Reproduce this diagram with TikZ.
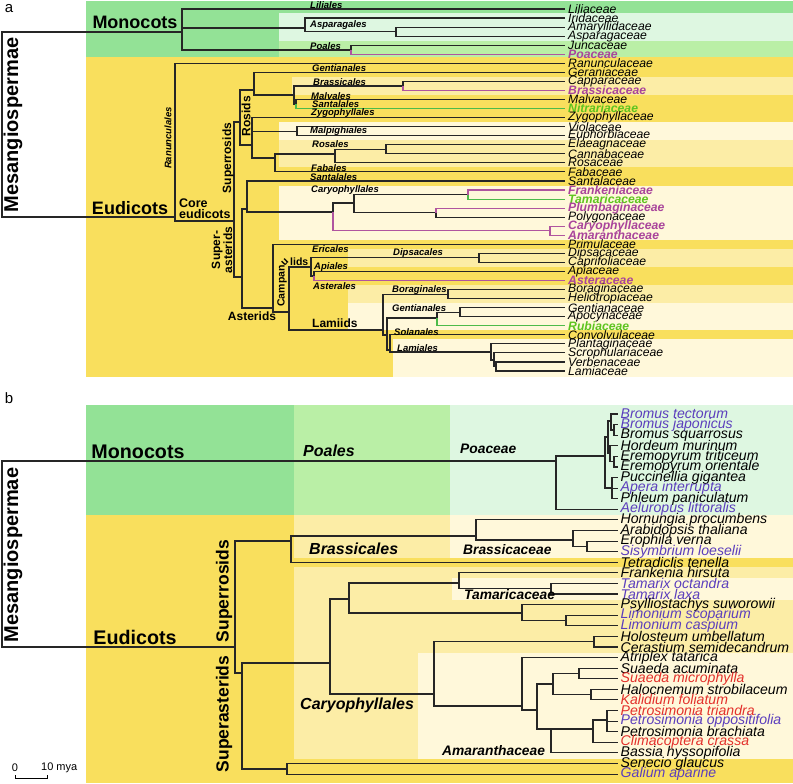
\documentclass[tikz,border=0pt]{standalone}
\usepackage{fontspec}
\setmainfont{Liberation Sans}
\usetikzlibrary{positioning}
\definecolor{mgreen}{HTML}{93E296}
\definecolor{lgreen}{HTML}{BAEFA6}
\definecolor{vgreen}{HTML}{DEF7E1}
\definecolor{myellow}{HTML}{F9DF5D}
\definecolor{lyellow}{HTML}{FCEDA6}
\definecolor{vyellow}{HTML}{FFF8DA}
\definecolor{pinkln}{HTML}{B0559F}
\definecolor{pinktx}{HTML}{A9449B}
\definecolor{greenln}{HTML}{4DBB4A}
\definecolor{greentx}{HTML}{5EC41F}
\definecolor{spblue}{HTML}{5B3EBD}
\definecolor{spred}{HTML}{E3302B}

\begin{document}
\begin{tikzpicture}[
  x=1pt, y=-1pt,
  br/.style={line width=1.1pt, black!85},
  pk/.style={line width=1.1pt, pinkln},
  gn/.style={line width=1.1pt, greenln},
  tipa/.style={anchor=west, inner xsep=3pt, inner ysep=0pt, font=\fontsize{12.2}{11}\selectfont\itshape},
  tipb/.style={anchor=west, inner xsep=2.5pt, inner ysep=0pt, font=\fontsize{14.1}{13}\selectfont\itshape},
  nt/.style={},
  pb/.style={text=pinktx, font=\fontsize{12.2}{11}\selectfont\bfseries\itshape},
  gb/.style={text=greentx, font=\fontsize{12.2}{11}\selectfont\bfseries\itshape},
  vb/.style={text=spblue},
  rd/.style={text=spred},
  ordr/.style={anchor=west, inner sep=0pt, font=\fontsize{9.5}{9.5}\selectfont\bfseries\itshape},
  ordb/.style={anchor=west, inner sep=0pt, font=\fontsize{16}{16}\selectfont\bfseries\itshape},
  famb/.style={anchor=west, inner sep=0pt, font=\fontsize{13.8}{14}\selectfont\bfseries\itshape},
  clade/.style={inner sep=0pt, font=\fontsize{12}{11}\selectfont\bfseries},
  bigclade/.style={inner sep=0pt, font=\fontsize{18}{18}\selectfont\bfseries}
]
\useasboundingbox (0,0) rectangle (793,784);

% ---------- panel a: backgrounds
\fill[mgreen] (86,1) rectangle (793,57);
\fill[vgreen] (279,13.5) rectangle (793,40.7);
\fill[lgreen] (279,40.7) rectangle (793,57);
\fill[myellow] (86,57) rectangle (793,377);
\fill[lyellow] (292,76.9) rectangle (793,94.9);
\fill[vyellow] (279,122.1) rectangle (793,140.2);
\fill[lyellow] (279,140.2) rectangle (793,167.4);
\fill[vyellow] (279,185.5) rectangle (793,239.8);
\fill[lyellow] (348,248.8) rectangle (793,266.9);
\fill[lyellow] (348,285) rectangle (793,303.2);
\fill[vyellow] (348,303.2) rectangle (793,330.3);
\fill[vyellow] (393,339.4) rectangle (793,377);

\node[font=\fontsize{15}{15}\selectfont] (lbla) at (9,9) {a};

% tips
\foreach \t/\s [count=\i from 0] in {Liliaceae/nt, Iridaceae/nt, Amaryllidaceae/nt, Asparagaceae/nt,
  Juncaceae/nt, Poaceae/pb, Ranunculaceae/nt, Geraniaceae/nt, Capparaceae/nt, Brassicaceae/pb,
  Malvaceae/nt, Nitrariaceae/gb, Zygophyllaceae/nt, Violaceae/nt, Euphorbiaceae/nt, Elaeagnaceae/nt,
  Cannabaceae/nt, Rosaceae/nt, Fabaceae/nt, Santalaceae/nt, Frankeniaceae/pb, Tamaricaceae/gb,
  Plumbaginaceae/pb, Polygonaceae/nt, Caryophyllaceae/pb, Amaranthaceae/pb, Primulaceae/nt,
  Dipsacaceae/nt, Caprifoliaceae/nt, Apiaceae/nt, Asteraceae/pb, Boraginaceae/nt, Heliotropiaceae/nt,
  Gentianaceae/nt, Apocynaceae/nt, Rubiaceae/gb, Convolvulaceae/nt, Plantaginaceae/nt,
  Scrophulariaceae/nt, Verbenaceae/nt, Lamiaceae/nt}
  \node[tipa,\s] (ta\i) at (565, 9+9.05*\i) {\t};

% internal nodes
\coordinate (root) at (2,125);
\coordinate (mono) at (182,32);
\coordinate (aspa) at (305,28);
\coordinate (amar) at (396,31.6);
\coordinate (poal) at (351,50);
\coordinate (eud) at (175,217);
\coordinate (core) at (234,221);
\coordinate (rosids) at (240,122);
\coordinate (rtop) at (254,90);
\coordinate (brma) at (294,95);
\coordinate (bras) at (403,86);
\coordinate (malv) at (296,104);
\coordinate (rbot) at (252,145);
\coordinate (malp) at (297,131.2);
\coordinate (rofa) at (275,158);
\coordinate (ros) at (335,154);
\coordinate (elae) at (386,149.3);
\coordinate (sast) at (242,277);
\coordinate (sc) at (247,209);
\coordinate (caryo) at (333,212);
\coordinate (fram) at (354,203);
\coordinate (ft) at (468,194.5);
\coordinate (pp) at (436,212.6);
\coordinate (caam) at (550,230.7);
\coordinate (ast) at (273,308);
\coordinate (asb) at (289,312);
\coordinate (camp) at (311,267);
\coordinate (dips) at (479,257.9);
\coordinate (apas) at (314,276);
\coordinate (lam) at (383,330);
\coordinate (bor) at (448,294.1);
\coordinate (lb) at (387,335);
\coordinate (gen) at (437,318);
\coordinate (gent) at (460,312.2);
\coordinate (lc) at (390,350);
\coordinate (lami) at (491,352);
\coordinate (lmb) at (494,360);
\coordinate (lmc) at (496,366.5);

\foreach \p/\c in {root/mono, root/eud, mono/ta0, mono/aspa, mono/poal, aspa/ta1, aspa/amar,
  amar/ta2, amar/ta3, poal/ta4, eud/ta6, eud/core, core/rosids, core/sast, rosids/rtop, rosids/rbot,
  rtop/ta7, rtop/brma, brma/bras, brma/malv, bras/ta8, malv/ta10, rbot/ta12, rbot/malp, rbot/rofa,
  malp/ta13, malp/ta14, rofa/ros, rofa/ta18, ros/elae, ros/ta17, elae/ta15, elae/ta16,
  sast/sc, sast/ast, sc/ta19, sc/caryo, caryo/fram, fram/ft, fram/pp, pp/ta23,
  ast/ta26, ast/asb, asb/camp, asb/lam, camp/dips, camp/apas, dips/ta27, dips/ta28, apas/ta29,
  lam/bor, lam/lb, bor/ta31, bor/ta32, lb/gen, lb/lc, gen/gent, gent/ta33, gent/ta34,
  lc/ta36, lc/lami, lami/ta37, lami/lmb, lmb/ta38, lmb/lmc, lmc/ta39, lmc/ta40}
  \draw[br] (\p) |- (\c);
\foreach \p/\c in {poal/ta5, bras/ta9, caryo/caam, ft/ta20, pp/ta22, caam/ta24, caam/ta25, apas/ta30}
  \draw[pk] (\p) |- (\c);
\foreach \p/\c in {malv/ta11, ft/ta21, gen/ta35}
  \draw[gn] (\p) |- (\c);

% order labels
\node[ordr] (oLil) at (310,5) {Liliales};
\node[ordr] (oAsp) at (310,25) {Asparagales};
\node[ordr] (oPoa) at (310,46) {Poales};
\node[ordr] (oGen) at (312,68) {Gentianales};
\node[ordr] (oBra) at (313,82) {Brassicales};
\node[ordr] (oMal) at (311,96) {Malvales};
\node[ordr] (oSan) at (312,104.5) {Santalales};
\node[ordr] (oZyg) at (311,113) {Zygophyllales};
\node[ordr] (oMlp) at (310,131) {Malpighiales};
\node[ordr] (oRos) at (312,144) {Rosales};
\node[ordr] (oFab) at (311,168) {Fabales};
\node[ordr] (oSnt) at (310,177) {Santalales};
\node[ordr] (oCar) at (311,190) {Caryophyllales};
\node[ordr] (oEri) at (312,249) {Ericales};
\node[ordr] (oDip) at (393,253) {Dipsacales};
\node[ordr] (oApi) at (314,267) {Apiales};
\node[ordr] (oAst) at (313,286) {Asterales};
\node[ordr] (oBor) at (392,290) {Boraginales};
\node[ordr] (oGnt) at (392,308) {Gentianales};
\node[ordr] (oSol) at (394,332) {Solanales};
\node[ordr] (oLam) at (397,348) {Lamiales};
\node[ordr, anchor=center, rotate=90] (oRan) at (168,138) {Ranunculales};

% clade labels
\node[bigclade] (cMono) at (135,22) {Monocots};
\node[bigclade] (cEud) at (130,208) {Eudicots};
\node[inner sep=0pt, rotate=90, font=\fontsize{20}{20}\selectfont\bfseries] (cMes) at (13,125) {Mesangiospermae};
\node[clade, font=\fontsize{12.5}{11}\selectfont\bfseries, anchor=west, align=left] (cCore) at (179,209) {Core\\eudicots};
\node[clade, rotate=90] (cSros) at (228,158) {Superrosids};
\node[clade, rotate=90] (cRos) at (246,116) {Rosids};
\node[clade, rotate=90, align=center] (cSast) at (222,250) {Super-\\asterids};
\node[clade] (cAst) at (252,316) {Asterids};
\node[clade, font=\fontsize{10.5}{10}\selectfont\bfseries, rotate=90] (cCam) at (282,286) {Campan};
\node[clade, font=\fontsize{10.5}{10}\selectfont\bfseries, rotate=45] (cCamu) at (285,262) {u};
\node[clade, font=\fontsize{10.5}{10}\selectfont\bfseries, anchor=west] (cCaml) at (290,262) {lids};
\node[clade, anchor=west] (cLam) at (312,323) {Lamiids};

% ---------- panel b: backgrounds
\fill[mgreen] (86,405) rectangle (294,515);
\fill[lgreen] (294,405) rectangle (450,515);
\fill[vgreen] (450,405) rectangle (793,515);
\fill[myellow] (86,515) rectangle (793,783);
\fill[lyellow] (294,515) rectangle (450,558);
\fill[vyellow] (450,515) rectangle (793,558);
\fill[lyellow] (294,567) rectangle (793,759);
\fill[vyellow] (452,578) rectangle (793,600);
\fill[vyellow] (418,653) rectangle (793,759);

\node[font=\fontsize{15}{15}\selectfont] (lblb) at (9,398) {b};

\foreach \t/\s [count=\i from 0] in {Bromus tectorum/vb, Bromus japonicus/vb, Bromus squarrosus/nt,
  Hordeum murinum/nt, Eremopyrum triticeum/nt, Eremopyrum orientale/nt, Puccinellia gigantea/nt,
  Apera interrupta/vb, Phleum paniculatum/nt, Aeluropus littoralis/vb, Hornungia procumbens/nt,
  Arabidopsis thaliana/nt, Erophila verna/nt, Sisymbrium loeselii/vb, Tetradiclis tenella/nt,
  Frankenia hirsuta/nt, Tamarix octandra/vb, Tamarix laxa/vb, Psylliostachys suworowii/nt,
  Limonium scoparium/vb, Limonium caspium/vb, Holosteum umbellatum/nt, Cerastium semidecandrum/nt,
  Atriplex tatarica/nt, Suaeda acuminata/nt, Suaeda microphylla/rd, Halocnemum strobilaceum/nt,
  Kalidium foliatum/rd, Petrosimonia triandra/rd, Petrosimonia oppositifolia/vb,
  Petrosimonia brachiata/nt, Climacoptera crassa/rd, Bassia hyssopifolia/nt, Senecio glaucus/nt,
  Galium aparine/vb}
  \node[tipb,\s] (tb\i) at (618, 414+10.59*\i) {\t};

\coordinate (rb) at (2,555);
\coordinate (bmon) at (556,461);
\coordinate (pA) at (605,456);
\coordinate (pB) at (608,437);
\coordinate (pC) at (611,421);
\coordinate (pE) at (614,430);
\coordinate (pD) at (610,453);
\coordinate (pG) at (614,461.7);
\coordinate (pF) at (612,488);
\coordinate (beud) at (235,647);
\coordinate (brs) at (291,541);
\coordinate (bcc) at (476,536);
\coordinate (bar) at (573,540);
\coordinate (ber) at (587,546.4);
\coordinate (sab) at (242,673);
\coordinate (sgl) at (287,769);
\coordinate (car) at (330,663);
\coordinate (bft) at (349,599);
\coordinate (bfr) at (459,583);
\coordinate (btam) at (551,588.7);
\coordinate (bpl) at (522,613);
\coordinate (blim) at (566,620.5);
\coordinate (bca) at (434,694);
\coordinate (bcy) at (594,641.7);
\coordinate (bam) at (522,706);
\coordinate (bamb) at (537,710);
\coordinate (bsu) at (553,684);
\coordinate (bsua) at (579,673.5);
\coordinate (bsub) at (591,694.6);
\coordinate (bamc) at (551,729);
\coordinate (bpe) at (593,729);
\coordinate (bpt) at (607,720);

\foreach \p/\c in {rb/bmon, rb/beud, bmon/pA, bmon/tb9, pA/pB, pA/pF, pB/pC, pB/pD, pC/tb0, pC/pE,
  pE/tb1, pE/tb2, pD/tb3, pD/pG, pG/tb4, pG/tb5, pF/tb6, pF/tb7, pF/tb8,
  beud/brs, beud/sab, brs/bcc, brs/tb14, bcc/tb10, bcc/bar, bar/tb11, bar/ber, ber/tb12, ber/tb13,
  sab/car, sab/sgl, sgl/tb33, sgl/tb34, car/bft, car/bca, bft/bfr, bft/bpl, bfr/tb15, bfr/btam,
  btam/tb16, btam/tb17, bpl/tb18, bpl/blim, blim/tb19, blim/tb20, bca/bcy, bca/bam, bcy/tb21, bcy/tb22,
  bam/tb23, bam/bamb, bamb/bsu, bamb/bamc, bsu/bsua, bsu/bsub, bsua/tb24, bsua/tb25, bsub/tb26,
  bsub/tb27, bamc/bpe, bamc/tb32, bpe/bpt, bpe/tb31, bpt/tb28, bpt/tb29, bpt/tb30}
  \draw[br] (\p) |- (\c);

\node[bigclade, font=\fontsize{19.7}{20}\selectfont\bfseries] (bMono) at (138,452) {Monocots};
\node[bigclade, font=\fontsize{19.7}{20}\selectfont\bfseries] (bEud) at (135,637) {Eudicots};
\node[inner sep=0pt, rotate=90, font=\fontsize{20}{20}\selectfont\bfseries] (bMes) at (13,555) {Mesangiospermae};
\node[inner sep=0pt, rotate=90, font=\fontsize{17.5}{17}\selectfont\bfseries] (bSros) at (224,591) {Superrosids};
\node[inner sep=0pt, rotate=90, font=\fontsize{17.5}{17}\selectfont\bfseries] (bSast) at (224,714) {Superasterids};
\node[ordb] (bPoales) at (303,451) {Poales};
\node[famb] (bPoaceae) at (460,449) {Poaceae};
\node[ordb] (bBrales) at (309,549) {Brassicales};
\node[famb] (bBraceae) at (463,550) {Brassicaceae};
\node[famb] (bTam) at (464,595) {Tamaricaceae};
\node[ordb] (bCar) at (300,705) {Caryophyllales};
\node[famb] (bAma) at (442,751) {Amaranthaceae};

% scale bar
\coordinate (sbl) at (15,778);
\coordinate (sbr) at (47,778);
\draw[line width=0.8pt] ([yshift=3pt]sbl) -- (sbl) -- (sbr) -- ([yshift=3pt]sbr);
\node[font=\fontsize{11}{11}\selectfont, inner sep=0pt] (sb0) at (15,768) {0};
\node[font=\fontsize{11}{11}\selectfont, inner sep=0pt, anchor=west] (sb10) at (41,768) {10 mya};
\end{tikzpicture}
\end{document}
